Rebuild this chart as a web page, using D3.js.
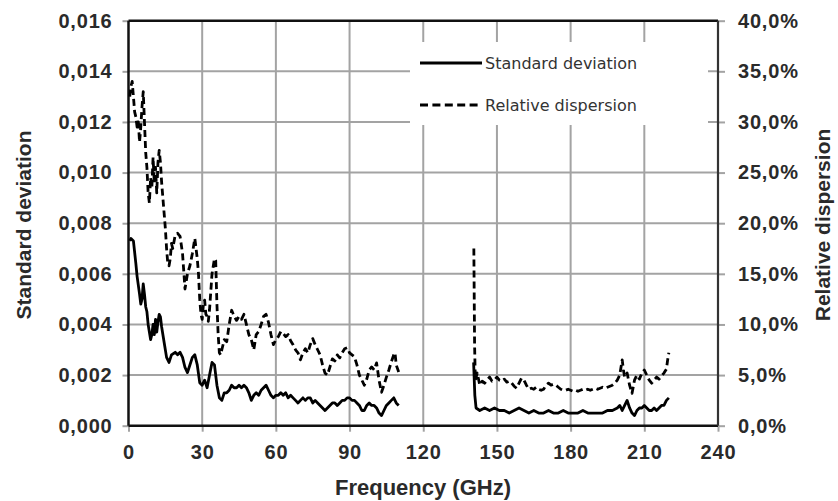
<!DOCTYPE html>
<html><head><meta charset="utf-8">
<script src="https://cdn.jsdelivr.net/npm/d3@7"></script>
<style>body{margin:0;background:#fff}svg{display:block}</style>
</head><body>
<svg id="c" width="838" height="501"></svg>
<script>
// ---- data ----
const xTicks = [0,30,60,90,120,150,180,210,240];
const yLeftTicks = [0,0.002,0.004,0.006,0.008,0.010,0.012,0.014,0.016];
const yRightTicks = [0,5,10,15,20,25,30,35,40];
const seriesNames = ["Standard deviation","Relative dispersion"];

const stdFreq1 = [0.5,1,2,3,3.5,4.5,5,5.5,6,6.5,7,7.5,8,8.5,9,9.5,10,10.5,11,11.5,12,12.5,13,13.5,14.5,15.5,16.5,17.5,19,20,21,22,23,24,25,26,27,28,29,30,31,32,33,34,35,36,37,38,39,40,41,42,43,44,45,46,47,48,49,50,51,52,53,54,55,56,57,58,59,60,61,62,63,64,65,66,67,68,69,70,71,72,73,74,75,76,77,78,79,80,81,82,83,84,85,86,87,88,89,90,91,92,93,94,95,96,97,98,99,100,101,102,103,104,105,106,107,108,109,110];
const stdVal1 = [0.0073,0.0074,0.0073,0.0064,0.0059,0.0052,0.0048,0.0050,0.0056,0.0052,0.0047,0.0045,0.0040,0.0037,0.0034,0.0036,0.0040,0.0036,0.0042,0.0037,0.0041,0.0044,0.0043,0.0039,0.0033,0.0027,0.0025,0.0028,0.0029,0.0028,0.0029,0.0027,0.0023,0.0021,0.0024,0.0027,0.0028,0.0024,0.0017,0.0016,0.0018,0.0015,0.0020,0.0025,0.0024,0.0016,0.0011,0.0010,0.0013,0.0013,0.0014,0.0016,0.0015,0.0015,0.0016,0.0015,0.0016,0.0015,0.0013,0.0010,0.0012,0.0013,0.0012,0.0014,0.0015,0.0016,0.0014,0.0012,0.0011,0.0012,0.0012,0.0013,0.0012,0.0013,0.0011,0.0012,0.0011,0.0010,0.0009,0.0010,0.0011,0.0010,0.0011,0.0011,0.0009,0.0010,0.0009,0.0008,0.0007,0.0006,0.0007,0.0008,0.0009,0.0009,0.0008,0.0009,0.0010,0.0010,0.0011,0.0011,0.0010,0.0010,0.0009,0.0008,0.0006,0.0006,0.0008,0.0009,0.0008,0.0008,0.0007,0.0005,0.0004,0.0006,0.0008,0.0009,0.0010,0.0011,0.0009,0.0008];

const stdFreq2 = [140.5,141,141.5,143,145,147,149,151,153,155,157,159,161,163,165,167,169,171,173,175,177,179,181,183,185,187,189,191,193,195,197,199,200,201,202,203,204,205,206,207,208,209,210,211,212,213,214,215,216,217,218,219,220];
const stdVal2 = [0.0025,0.0012,0.0007,0.0006,0.0007,0.0006,0.0007,0.0006,0.0006,0.0005,0.0006,0.0007,0.0006,0.0005,0.0006,0.0005,0.0005,0.0006,0.0005,0.0005,0.0006,0.0005,0.0005,0.0005,0.0006,0.0005,0.0005,0.0005,0.0005,0.0006,0.0006,0.0007,0.0008,0.0006,0.0008,0.0010,0.0007,0.0005,0.0004,0.0006,0.0007,0.0007,0.0008,0.0007,0.0006,0.0006,0.0007,0.0006,0.0007,0.0008,0.0008,0.0010,0.0011];

const relFreq1 = [0.5,1,1.5,2,2.5,3,3.5,4,4.5,5,5.5,6,6.5,7,7.5,8,8.5,9,9.5,10,10.5,11,11.5,12,12.5,13,13.5,14,14.5,15,15.5,16,16.5,17,17.5,18,19,20,21,22,23,24,25,26,27,28,28.5,29,29.5,30,30.5,31,31.5,32,32.5,33,34,35,35.5,36,36.5,37,37.5,38,39,40,41,42,43,44,45,46,47,48,49,50,51,52,53,54,55,56,57,58,59,60,61,62,63,64,65,66,67,68,69,70,71,72,73,74,75,76,77,78,79,80,81,82,83,84,85,86,87,88,89,90,91,92,93,94,95,96,97,98,99,100,101,102,103,104,105,106,107,108,108.5,109,110];
const relVal1 = [32.5,33.5,34.0,32.5,31.0,30.5,29.5,30.0,28.0,29.5,31.5,33.0,30.0,27.0,25.5,23.0,22.0,24.5,23.5,26.5,24.0,25.5,23.0,26.0,27.2,26.0,24.0,22.5,21.0,19.5,17.5,16.0,15.8,16.5,18.0,17.5,18.8,19.0,18.7,17.0,13.5,15.0,15.8,17.0,18.5,16.5,15.0,12.5,11.0,10.5,12.0,12.4,11.0,10.8,10.3,11.5,15.0,16.5,16.3,12.0,9.0,7.2,7.0,7.5,8.5,8.3,10.0,11.4,10.8,10.4,10.8,10.5,11.0,10.0,9.0,8.5,7.5,9.0,9.3,10.0,10.8,11.0,10.2,9.0,8.0,8.5,8.8,9.3,9.1,8.8,9.0,8.4,8.0,7.5,7.2,6.5,7.2,7.6,7.2,8.0,8.6,8.0,7.5,7.0,6.0,5.2,5.0,5.8,6.6,6.4,7.0,6.7,7.2,7.6,7.7,7.2,7.0,6.8,6.0,5.0,4.5,4.0,4.6,5.5,5.8,5.5,6.2,4.5,3.3,4.0,4.8,5.5,6.3,7.0,7.2,6.0,5.3];

const relFreq2 = [140.6,140.9,141.2,142,143,144,145,146,147,148,149,150,151,152,153,154,155,156,157,158,159,160,161,162,163,164,165,166,167,168,169,170,171,172,173,174,175,176,177,178,179,180,181,182,183,184,185,186,187,188,189,190,191,192,193,194,195,196,197,198,199,200,201,201.5,202,203,204,205,206,207,208,209,210,211,212,213,214,215,216,217,218,219,219.5,220];
const relVal2 = [17.5,8.0,4.5,5.2,4.0,4.4,4.2,4.5,4.8,4.4,4.5,4.8,4.5,4.4,4.6,4.3,4.4,4.2,3.9,3.7,4.2,4.7,4.5,4.0,3.6,3.7,3.6,3.8,3.6,3.5,3.6,4.0,4.2,4.0,4.1,4.0,3.8,3.6,3.5,3.5,3.6,3.5,3.4,3.5,3.4,3.5,3.6,3.5,3.6,3.5,3.6,3.7,3.6,3.7,3.8,3.7,3.8,3.9,4.0,4.2,4.5,5.0,6.5,5.5,4.8,5.2,4.0,3.2,4.5,5.0,4.6,5.2,5.5,5.0,4.5,4.2,4.5,4.8,4.6,4.9,5.2,5.6,6.5,7.2];

// ---- layout ----
const L = 128.5, R = 718, T = 20.7, B = 425.7;
const svg = d3.select("#c");
const x = d3.scaleLinear().domain([0,240]).range([L,R]);
const yL = d3.scaleLinear().domain([0,0.016]).range([B,T]);
const yR = d3.scaleLinear().domain([0,40]).range([B,T]);
const fmtL = d => d3.format(".3f")(d).replace(".", ",");
const fmtR = d => d3.format(".1f")(d).replace(".", ",") + "%";
const grid = "#a3a3a3";

// gridlines
const g = svg.append("g");
g.selectAll(".vg").data(xTicks.slice(1,-1)).join("line")
  .attr("x1", d=>x(d)).attr("x2", d=>x(d)).attr("y1", T).attr("y2", B)
  .attr("stroke", grid).attr("stroke-width", 2);
g.selectAll(".hg").data(yLeftTicks.slice(1,-1)).join("line")
  .attr("x1", L).attr("x2", R).attr("y1", d=>yL(d)).attr("y2", d=>yL(d))
  .attr("stroke", grid).attr("stroke-width", 2);

// axes
const axL = svg.append("g").attr("transform", `translate(${L},0)`)
  .call(d3.axisLeft(yL).tickValues(yLeftTicks).tickFormat(fmtL).tickSize(6).tickPadding(10));
const axR = svg.append("g").attr("transform", `translate(${R},0)`)
  .call(d3.axisRight(yR).tickValues(yRightTicks).tickFormat(fmtR).tickSize(7).tickPadding(13));
const axB = svg.append("g").attr("transform", `translate(0,${B})`)
  .call(d3.axisBottom(x).tickValues(xTicks).tickSize(6).tickPadding(8));
[axL, axR, axB].forEach(a => {
  a.select(".domain").remove();
  a.selectAll(".tick line").attr("stroke", grid).attr("stroke-width", 2);
  a.selectAll("text").attr("fill", "#2a2a2a").style("font-family", "'Liberation Sans', Arial, sans-serif")
    .style("font-weight", "bold").style("font-size", "20px").style("letter-spacing", "0.8px");
});
axB.selectAll("text").attr("dy", "0.95em");

// legend box (covers gridlines)
svg.append("rect").attr("x", 410).attr("y", 42).attr("width", 298).attr("height", 83).attr("fill", "#fff");

// frame
const frame = svg.append("g").attr("fill", "none");
frame.append("line").attr("x1", L).attr("x2", R).attr("y1", T).attr("y2", T).attr("stroke", "#111").attr("stroke-width", 2.5);
frame.append("line").attr("x1", L).attr("x2", L).attr("y1", T).attr("y2", B).attr("stroke", "#111").attr("stroke-width", 2.5);
frame.append("line").attr("x1", L).attr("x2", R).attr("y1", B).attr("y2", B).attr("stroke", "#111").attr("stroke-width", 2.5);
frame.append("line").attr("x1", R).attr("x2", R).attr("y1", T).attr("y2", B).attr("stroke", "#333").attr("stroke-width", 2.2);

// series
const lineL = d3.line().x(d=>x(d[0])).y(d=>yL(d[1])).curve(d3.curveLinear);
const lineR = d3.line().x(d=>x(d[0])).y(d=>yR(d[1])).curve(d3.curveLinear);
const zip = (a,b) => a.map((v,i)=>[v,b[i]]);
const plot = svg.append("g").attr("fill","none").attr("stroke","#000").attr("stroke-linejoin","round");
[[stdFreq1,stdVal1],[stdFreq2,stdVal2]].forEach(([f,v]) =>
  plot.append("path").attr("d", lineL(zip(f,v))).attr("stroke-width", 2.8));
[[relFreq1,relVal1],[relFreq2,relVal2]].forEach(([f,v]) =>
  plot.append("path").attr("d", lineR(zip(f,v))).attr("stroke-width", 2.8).attr("stroke-dasharray", "7,4"));

// legend
const leg = svg.append("g");
const legY = [63, 105];
leg.selectAll("line").data(seriesNames).join("line")
  .attr("x1", 420).attr("x2", 482).attr("y1", (d,i)=>legY[i]).attr("y2", (d,i)=>legY[i])
  .attr("stroke", "#000").attr("stroke-width", 3).attr("stroke-dasharray", (d,i)=> i ? "8,4.4" : null);
leg.selectAll("text").data(seriesNames).join("text")
  .attr("x", 485).attr("y", (d,i)=>legY[i]).attr("dy", "0.35em")
  .attr("fill", "#333").style("font-family", "'DejaVu Sans', sans-serif").style("font-size", "16px")
  .text(d=>d);

// axis titles
const tstyle = s => s.attr("fill", "#2a2a2a").style("font-family", "'Liberation Sans', Arial, sans-serif")
  .style("font-weight", "bold").attr("text-anchor", "middle");
svg.append("text").call(tstyle).style("font-size", "21px")
  .attr("transform", "translate(31,225) rotate(-90)").text("Standard deviation");
svg.append("text").call(tstyle).style("font-size", "21px")
  .attr("transform", "translate(830,225) rotate(-90)").text("Relative dispersion");
svg.append("text").call(tstyle).style("font-size", "22px")
  .attr("x", 423).attr("y", 495).text("Frequency (GHz)");
</script>
</body></html>
